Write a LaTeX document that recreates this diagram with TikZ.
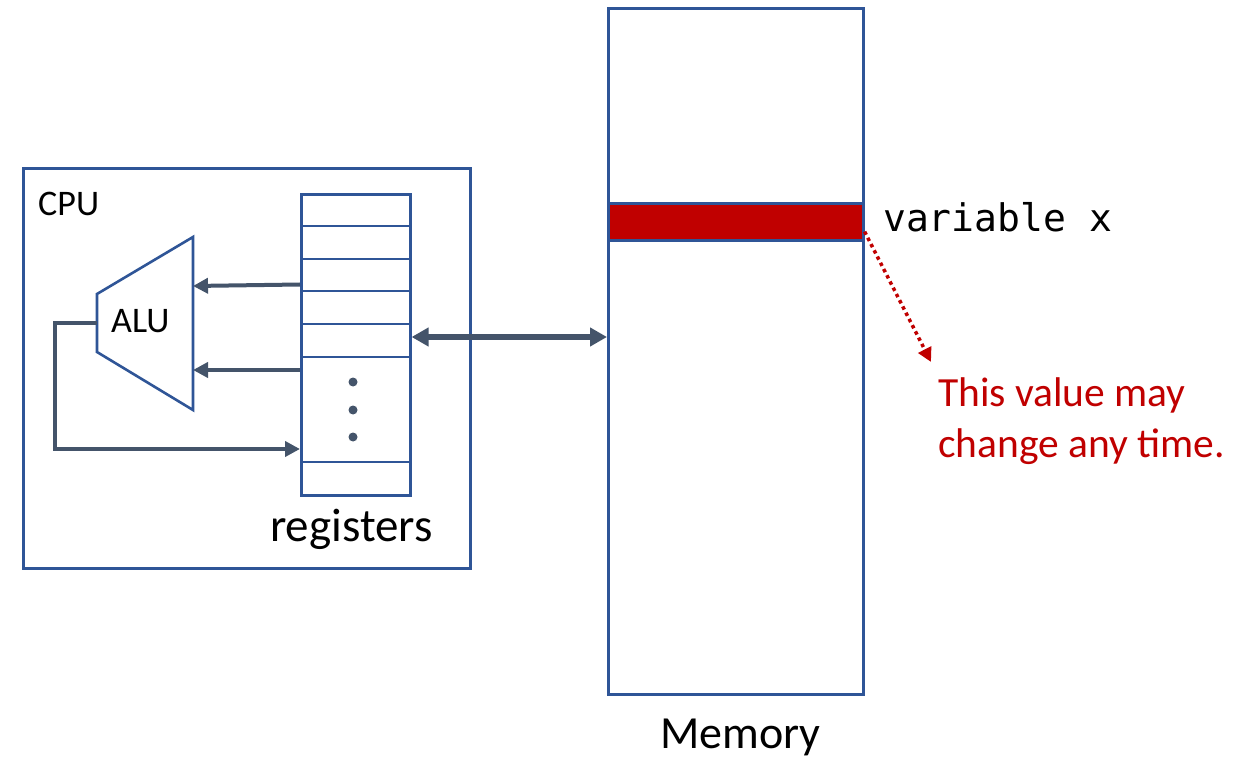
\documentclass[tikz,border=0pt]{standalone}
\usepackage{fontspec}
\setmainfont{Carlito}
\newfontfamily\monofont{DejaVu Sans Mono}
\usetikzlibrary{arrows.meta,calc}
\definecolor{boxblue}{HTML}{2F5597}
\definecolor{conn}{HTML}{44546A}
\definecolor{darkred}{HTML}{C00000}
\tikzset{
  box/.style={draw=boxblue, line width=2.6pt, fill=white, inner sep=0pt, anchor=north west},
  regline/.style={draw=boxblue, line width=2.6pt},
  connarrow/.style={draw=conn, line width=4pt, -{Triangle[length=15pt,width=15pt]}},
  busarrow/.style={draw=conn, line width=5pt, {Triangle[length=17pt,width=18pt]}-{Triangle[length=17pt,width=18pt]}},
  notearrow/.style={draw=darkred, line width=3.5pt, dash pattern=on 3.5pt off 3.5pt, -{Triangle[length=14pt,width=14pt]}},
  lbl/.style={inner sep=0pt, anchor=base west},
}
\begin{document}
\begin{tikzpicture}[x=1pt,y=-1pt]
\useasboundingbox (0,0) rectangle (1253,759);
% CPU box
\node[box, minimum width=447pt, minimum height=400pt] (cpu) at (22,167) {};
\node[lbl, font=\fontsize{36}{42}\selectfont] (cpulbl) at (38,216) {CPU};
% registers
\node[box, minimum width=109pt, minimum height=301pt] (reg) at (300,193) {};
\foreach \yy in {226,259,291,324,357,462}
  \draw[regline] (300,\yy) -- (409,\yy);
\foreach \yy in {382,410,437}
  \fill[conn] (353,\yy) circle (4.5pt);
\node[lbl, font=\fontsize{47}{54}\selectfont] (reglbl) at (270,541) {registers};
% ALU
\draw[boxblue, line width=2.6pt, line join=miter] (97,294) -- (193,237) -- (193,410) -- (97,352) -- cycle;
\node[lbl, font=\fontsize{36}{42}\selectfont] (alu) at (111,333) {ALU};
\coordinate (r1) at (300,284.5);
\coordinate (a1) at (193,286);
\coordinate (r2) at (300,370);
\coordinate (a2) at (193,370);
\coordinate (aout) at (97,323);
\coordinate (rin) at (300,449);
\draw[connarrow] (r1) -- (a1);
\draw[connarrow] (r2) -- (a2);
\draw[connarrow] (aout) -- (55,323) |- (rin);
% Memory
\node[box, minimum width=255pt, minimum height=686pt] (mem) at (607,7) {};
\node[box, fill=darkred, minimum width=255pt, minimum height=37pt] (var) at (607,202) {};
\node[lbl, font=\fontsize{46}{54}\selectfont] (memlbl) at (660,748) {Memory};
\node[lbl, font=\monofont\fontsize{38}{44}\selectfont] (varlbl) at (883,232) {variable x};
% bus
\draw[busarrow] (reg.east |- 0,337) -- (mem.west |- 0,337);
% note
\coordinate (tip) at (931,362);
\draw[notearrow] (var.south east) ++(0,-10) -- (tip);
\node[inner sep=0pt, anchor=base west, text=darkred, font=\fontsize{41.5}{51}\selectfont] (note) at (938,406) {This value may};
\node[inner sep=0pt, anchor=base west, text=darkred, font=\fontsize{41.5}{51}\selectfont] (note2) at (938,457) {change any time.};
\end{tikzpicture}
\end{document}
